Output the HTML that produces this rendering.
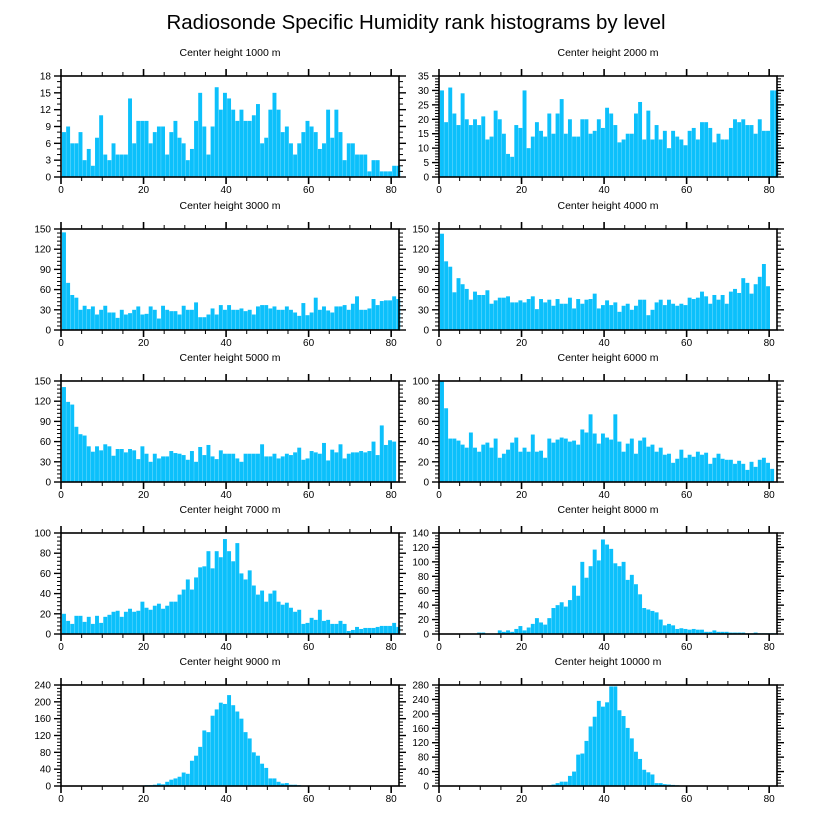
<!DOCTYPE html>
<html><head><meta charset="utf-8">
<style>
html,body{margin:0;padding:0;background:#fff;}
svg{display:block;font-family:"Liberation Sans",Arial,sans-serif;}
</style></head>
<body>
<svg id="chart" width="816" height="824" viewBox="0 0 816 824">
<text x="416" y="29" text-anchor="middle" font-size="20.5" fill="#000">Radiosonde Specific Humidity rank histograms by level</text>
</svg>
<script>
const titles = ["Center height 1000 m","Center height 2000 m","Center height 3000 m","Center height 4000 m","Center height 5000 m","Center height 6000 m","Center height 7000 m","Center height 8000 m","Center height 9000 m","Center height 10000 m"];
const yMax = [18,35,150,150,150,100,100,140,240,280];
const yStep = [3,5,30,30,30,20,20,20,40,40];
const xTicks = [0,20,40,60,80];
const h1000 = [8,9,6,6,8,3,5,2,7,11,4,3,6,4,4,4,14,6,10,10,10,6,8,9,9,4,8,10,7,6,3,5,10,15,9,4,9,16,12,15,14,12,10,12,10,10,11,13,6,7,12,15,12,8,9,6,4,6,8,10,9,8,5,6,12,7,12,8,3,6,6,4,4,4,1,3,3,1,1,1,2,2];
const h2000 = [30,19,31,22,18,29,20,18,20,18,21,13,14,23,20,15,8,7,18,17,30,10,14,19,16,14,22,15,22,27,15,20,14,14,20,20,15,16,20,17,24,22,18,12,13,15,15,22,26,13,23,13,18,13,16,10,16,14,13,11,16,17,13,19,19,17,12,15,13,13,17,20,19,20,18,18,15,20,16,16,30,30];
const h3000 = [145,70,52,48,30,36,31,35,23,30,36,26,26,18,30,23,25,30,35,23,24,35,30,17,36,30,28,28,23,36,30,30,41,19,19,23,32,23,37,30,37,30,30,32,28,30,23,35,37,37,32,35,30,30,35,30,26,21,40,22,26,48,30,35,29,26,35,35,37,30,39,50,30,30,32,46,37,43,44,44,50,46];
const h4000 = [143,102,94,56,77,68,61,45,57,52,52,59,39,44,48,48,50,41,41,44,41,46,50,31,46,41,45,36,46,39,39,48,32,46,39,45,46,54,32,37,44,37,41,27,36,39,30,36,45,45,22,30,41,45,37,45,39,36,39,37,48,46,48,57,50,39,52,45,52,39,57,61,55,77,70,54,68,79,98,65];
const h5000 = [141,119,115,82,71,69,53,45,53,47,56,53,39,49,49,44,49,47,34,53,42,30,42,35,38,38,46,43,42,40,33,46,30,52,40,55,38,34,47,42,42,42,35,30,42,42,42,42,56,38,38,42,35,38,42,40,44,51,33,35,46,44,42,58,32,48,44,56,35,42,44,44,46,44,46,60,40,84,55,62,60];
const h6000 = [100,73,43,43,41,37,34,49,34,30,37,39,34,43,24,28,32,39,44,30,34,30,47,30,31,24,43,39,42,44,43,40,41,37,52,49,67,48,38,48,44,42,67,40,30,38,43,28,41,44,35,37,30,34,27,28,19,23,32,24,27,25,30,27,29,18,24,28,23,22,22,18,21,18,12,20,15,22,24,19,13];
const h7000 = [20,13,10,18,18,12,17,10,18,11,17,19,22,23,17,22,25,22,23,32,26,24,28,30,25,28,32,32,39,44,54,44,56,66,67,82,65,82,76,94,82,72,90,60,54,63,48,39,43,32,40,43,32,29,31,26,22,24,10,11,16,14,24,13,14,10,10,13,10,3,4,7,5,6,6,6,7,8,8,8,11,7];
const h8000 = [0,0,0,0,0,0,0,0,0,2,2,0,0,0,5,3,5,3,7,11,5,9,14,22,16,13,22,36,40,44,38,47,67,53,100,78,94,117,102,131,124,118,98,94,100,75,82,69,55,36,34,32,30,20,12,14,12,7,8,7,6,7,6,6,3,3,5,3,3,3,2,2,2,2,1,1,2,1,1,1,1,1];
const h9000 = [0,0,0,0,0,0,0,0,0,0,0,0,0,0,0,0,0,0,0,1,2,2,3,6,4,10,15,18,22,32,29,60,72,93,132,128,167,182,198,195,216,192,177,160,128,113,80,72,53,43,18,18,10,6,7,3,3,2,1,1,1,1,1,1,1,1,1,1,1,1,1,1,1,1,0,0,0,0,0,0,0,0];
const h10000 = [0,0,0,0,0,0,0,0,0,0,0,0,0,0,0,0,0,0,0,0,0,0,0,0,0,1,2,4,8,12,12,28,40,87,90,125,165,192,236,220,232,276,276,210,194,161,132,95,75,45,38,32,8,8,5,4,3,2,0,0,0,0,0,0,0,0,0,0,0,0,0,0,0,0,0,0,0,0,0,0,0,0];
const series = [h1000,h2000,h3000,h4000,h5000,h6000,h7000,h8000,h9000,h10000];

const NS = "http://www.w3.org/2000/svg";
const svg = document.getElementById("chart");
const colLeft = [61, 439];
const rowTop = [76, 229, 381, 533, 685];
const PW = 338, PH = 101, XMAX = 81.9;
function mk(tag, attrs, parent){const e=document.createElementNS(NS,tag);for(const k in attrs)e.setAttribute(k,attrs[k]);(parent||svg).appendChild(e);return e;}

series.forEach((vals, p) => {
  const x0 = colLeft[p % 2], y0 = rowTop[Math.floor(p / 2)];
  const xs = v => x0 + v / XMAX * PW;
  const ys = v => y0 + PH - v / yMax[p] * PH;
  const g = mk("g", {});
  
  
  const t = mk("text", {x: x0 + PW/2, y: y0 - 20, "text-anchor":"middle", "font-size":"10.5", fill:"#000"}, g);
  t.textContent = titles[p];
  
  
  vals.forEach((v, i) => {
    if (v <= 0) return;
    const r = mk("rect", {x: xs(i + 0.25), y: ys(v), width: xs(i + 1.2) - xs(i + 0.25), height: ys(0) - ys(v), fill: "#0cc0fb"}, g);
    
    
  });
  const box = mk("rect", {x: x0, y: y0, width: PW, height: PH, fill: "none", stroke: "#000", "stroke-width": "1.6"}, g);
  
  
  for (let v = 0; v <= 80; v += 5) {
    const major = v % 20 === 0, L = major ? 7 : 4;
    mk("line", {x1: xs(v), x2: xs(v), y1: y0 + PH, y2: y0 + PH + L, stroke: "#000", "stroke-width": major ? 1.6 : 1}, g);
    mk("line", {x1: xs(v), x2: xs(v), y1: y0, y2: y0 - L, stroke: "#000", "stroke-width": major ? 1.6 : 1}, g);
  }
  xTicks.forEach(v => {
    const lt = mk("text", {x: xs(v), y: y0 + PH + 16, "text-anchor": "middle", "font-size": "10", fill: "#000"}, g);
    lt.textContent = v;
    
    
  });
  const minor = yStep[p] / 5 >= 1 && yStep[p] % 5 === 0 ? yStep[p] / 5 : yStep[p] / 3;
  for (let v = 0; v <= yMax[p] + 1e-6; v += minor) {
    const major = Math.abs(v / yStep[p] - Math.round(v / yStep[p])) < 1e-6, L = major ? 7 : 4;
    mk("line", {x1: x0, x2: x0 - L, y1: ys(v), y2: ys(v), stroke: "#000", "stroke-width": major ? 1.4 : 1}, g);
    mk("line", {x1: x0 + PW, x2: x0 + PW + L, y1: ys(v), y2: ys(v), stroke: "#000", "stroke-width": major ? 1.4 : 1}, g);
  }
  for (let v = 0; v <= yMax[p]; v += yStep[p]) {
    const lt = mk("text", {x: x0 - 10, y: ys(v) + 3.5, "text-anchor": "end", "font-size": "10", fill: "#000"}, g);
    lt.textContent = v;
    
    
  }
});
</script>
</body></html>
